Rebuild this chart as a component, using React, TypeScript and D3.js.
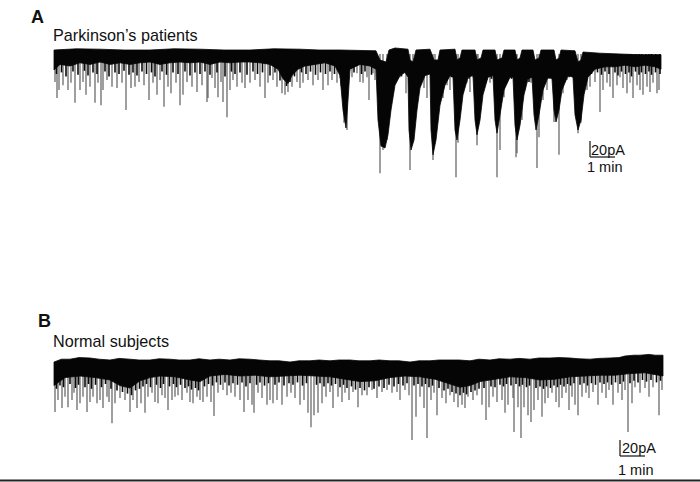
import React from "react";
import * as d3 from "d3";

// ---- Panel A : Parkinson's patients (time in min, current in pA) ----
const topA: [number, number][] = [
  [0, 0], [0.9, 1.5], [1.84, 1], [2.8, 0], [3.84, 0], [4.8, 1.5], [5.84, 1], [6.8, 0], [7.84, 0], [8.8, 1.5],
  [9.84, 1], [10.6, 0], [11.44, 0], [12.88, -1],
  [13.04, -12.5], [13.28, -15], [13.4, 0], [13.64, 2.5], [14.16, 1],
  [14.24, -12.5], [14.36, -15], [14.48, 0], [15.04, 1],
  [15.2, -12.5], [15.36, -12.5], [15.44, 0], [16.04, 1],
  [16.12, -12.5], [16.24, -10], [16.32, 0], [16.84, 0],
  [16.92, -12.5], [17.08, -10], [17.16, 0], [17.64, 0],
  [17.72, -12.5], [17.92, -10], [18.0, 0], [18.44, 0],
  [18.52, -12.5], [18.64, -10], [18.72, 0], [19.16, 0],
  [19.24, -12.5], [19.4, -10], [19.48, 0], [20.0, 0],
  [20.08, -12.5], [20.2, -10], [20.28, 0], [20.84, -1],
  [20.96, -15], [21.08, -12.5], [21.16, -2.5], [21.84, -4], [22.64, -5], [23.44, -6], [24.28, -6],
];

const bottomA: [number, number][] = [
  [0, -25], [0.24, -18], [0.64, -20], [1.04, -16], [1.44, -18], [1.84, -15], [2.24, -18],
  [2.64, -16], [3.04, -18], [3.44, -16], [3.84, -15], [4.24, -18], [4.64, -16], [5.04, -15],
  [5.44, -16], [5.84, -15], [6.24, -18], [6.64, -15], [7.04, -16], [7.44, -15], [7.84, -15],
  [8.24, -16], [8.64, -18], [8.96, -24], [9.16, -36], [9.36, -42], [9.52, -32], [9.76, -24],
  [10.04, -20], [10.44, -18], [10.84, -16], [11.24, -20], [11.44, -32], [11.56, -75], [11.68, -97.5],
  [11.76, -62.5], [11.84, -24], [12.24, -18], [12.64, -20], [12.88, -24],
  [12.96, -87.5], [13.08, -120], [13.24, -122.5], [13.36, -106], [13.48, -75], [13.64, -44], [13.84, -32], [14.04, -28], [14.16, -34],
  [14.2, -100], [14.28, -125], [14.4, -112.5], [14.52, -75], [14.64, -47.5], [14.84, -32], [15.04, -30],
  [15.08, -100], [15.16, -131], [15.28, -112.5], [15.44, -69], [15.64, -44], [15.84, -32], [15.96, -34],
  [16.04, -100], [16.12, -112.5], [16.24, -87.5], [16.36, -56], [16.56, -34], [16.76, -32],
  [16.84, -87.5], [16.92, -106], [17.04, -87.5], [17.16, -56], [17.36, -34], [17.56, -32],
  [17.64, -87.5], [17.72, -104], [17.84, -81], [18.0, -50], [18.24, -34], [18.36, -34],
  [18.44, -94], [18.52, -112.5], [18.64, -94], [18.8, -56], [18.96, -36], [19.12, -34],
  [19.2, -81], [19.28, -100], [19.4, -81], [19.56, -50], [19.76, -34], [19.92, -36],
  [20.0, -75], [20.08, -90], [20.2, -75], [20.32, -50], [20.56, -32], [20.76, -34],
  [20.84, -81], [20.96, -100], [21.08, -87.5], [21.2, -56], [21.36, -34], [21.64, -24],
  [22.04, -21], [22.44, -21], [22.84, -19], [23.24, -21], [23.64, -19], [24.04, -21], [24.28, -24],
];

const spikesA: [number, number][] = [
  [0.04, -40], [0.12, -60], [0.2, -50], [0.36, -44], [0.56, -50], [0.68, -41], [0.84, -66], [1.04, -50],
  [1.16, -40], [1.28, -56], [1.44, -46], [1.64, -66], [1.76, -41], [1.88, -69], [1.96, -50], [2.12, -37.5],
  [2.32, -46], [2.52, -47.5], [2.72, -41], [2.88, -75], [3.08, -47.5], [3.24, -46], [3.4, -40], [3.6, -44],
  [3.8, -62.5], [3.96, -41], [4.12, -56], [4.24, -37.5], [4.4, -71], [4.56, -46], [4.68, -54], [4.88, -41],
  [5.04, -69], [5.16, -56], [5.32, -40], [5.52, -46], [5.72, -52.5], [5.92, -44], [6.12, -65], [6.16, -60],
  [6.32, -35], [6.44, -47.5], [6.56, -59], [6.68, -40], [6.76, -65], [6.92, -84], [7.04, -50], [7.16, -37.5],
  [7.32, -46], [7.52, -41], [7.64, -47.5], [7.84, -41], [8.04, -37.5], [8.24, -46], [8.44, -60], [8.56, -41],
  [8.76, -37.5], [8.92, -46], [9.12, -54], [9.24, -56], [9.36, -52.5], [9.52, -46], [9.72, -40], [9.84, -47.5],
  [9.96, -41], [10.16, -37.5], [10.36, -44], [10.56, -37.5], [10.76, -50], [10.96, -44], [11.12, -37.5],
  [11.32, -41], [11.44, -35], [11.6, -91], [11.72, -100], [11.92, -34], [12.12, -29], [12.24, -40],
  [12.36, -41], [12.52, -34], [12.6, -62.5], [12.76, -29], [12.84, -37.5],
  [13.04, -154], [13.16, -125], [13.32, -112.5], [13.52, -62.5], [13.64, -35], [13.84, -34], [13.96, -25],
  [14.08, -54], [14.24, -150], [14.36, -104], [14.52, -50], [14.72, -25], [14.8, -47.5], [14.92, -60],
  [15.0, -29], [15.16, -137.5], [15.24, -96], [15.44, -54], [15.56, -60], [15.72, -44], [15.84, -50],
  [15.96, -34], [16.08, -159], [16.16, -116], [16.36, -54], [16.52, -41], [16.64, -52.5], [16.76, -34],
  [16.92, -119], [16.96, -96], [17.16, -50], [17.32, -37.5], [17.44, -41], [17.56, -29], [17.72, -159],
  [17.84, -125], [18.0, -59], [18.12, -41], [18.24, -34], [18.48, -134], [18.52, -129], [18.72, -87.5],
  [18.84, -50], [18.96, -34], [19.08, -41], [19.32, -147.5], [19.4, -109], [19.56, -62.5], [19.72, -50],
  [19.84, -34], [20.0, -90], [20.2, -131], [20.36, -54], [20.52, -37.5], [20.64, -31], [20.96, -104],
  [21.08, -91], [21.32, -50], [21.44, -46], [21.64, -40], [21.84, -77.5], [21.96, -50], [22.12, -41],
  [22.24, -46], [22.36, -60], [22.52, -44], [22.64, -34], [22.76, -47.5], [22.92, -54], [23.04, -41],
  [23.16, -60], [23.32, -44], [23.44, -50], [23.56, -56], [23.72, -46], [23.84, -52.5], [23.96, -41],
  [24.12, -54], [24.2, -50],
];

// short dense events just below the band (black texture), Panel A
const minisA: [number, number][] = [
  [0.1, -30], [0.3, -28], [0.48, -33], [0.76, -27], [0.96, -31], [1.22, -26], [1.36, -32], [1.56, -28],
  [1.72, -30], [2.04, -27], [2.2, -33], [2.44, -28], [2.6, -30], [2.8, -26], [3.0, -31], [3.16, -28],
  [3.32, -32], [3.52, -27], [3.7, -30], [3.9, -28], [4.04, -33], [4.32, -27], [4.5, -31], [4.76, -28],
  [4.96, -30], [5.24, -27], [5.44, -32], [5.64, -28], [5.84, -30], [6.04, -27], [6.24, -31], [6.52, -28],
  [6.84, -33], [7.1, -27], [7.24, -30], [7.44, -28], [7.72, -31], [7.96, -27], [8.14, -30], [8.34, -28],
  [8.64, -32], [8.84, -28], [9.04, -38], [9.3, -45], [9.44, -40], [9.62, -33], [9.9, -28], [10.08, -30],
  [10.26, -27], [10.46, -31], [10.66, -28], [10.86, -30], [11.04, -27], [11.22, -30], [11.5, -45],
  [12.0, -28], [12.3, -30], [12.44, -27], [12.7, -31], [13.76, -36], [13.9, -33], [14.6, -40], [14.68, -36],
  [15.68, -38], [15.9, -34], [16.44, -40], [16.6, -36], [17.28, -40], [17.5, -36], [18.08, -42], [18.3, -36],
  [19.0, -40], [19.16, -36], [19.64, -42], [19.8, -36], [20.44, -38], [20.6, -34], [21.24, -42], [21.5, -30],
  [21.74, -28], [21.9, -31], [22.04, -27], [22.2, -30], [22.44, -28], [22.56, -32], [22.7, -27], [22.86, -30],
  [23.0, -28], [23.1, -33], [23.26, -27], [23.4, -31], [23.5, -28], [23.66, -30], [23.8, -27], [23.9, -31],
  [24.06, -28], [24.24, -30],
];

// ---- Panel B : Normal subjects ----
const topB: [number, number][] = [
  [0, -2.5], [0.3, 1], [0.64, 1], [1.0, 3], [1.44, 2.5], [1.8, 1], [2.24, 0], [2.6, 2], [3.04, 1], [3.4, 0],
  [3.84, 0], [4.2, 1.5], [4.64, 1], [5.0, 0], [5.44, 0], [5.8, 1.5], [6.24, 0], [6.6, 1], [7.04, 0], [7.4, 1.5],
  [7.84, 1], [8.2, 0], [8.64, -1], [9.0, -1], [9.44, -2.5], [9.8, -1], [10.24, -1], [10.6, 0], [11.04, -1],
  [11.4, 0], [11.84, 0], [12.2, -1], [12.64, -1], [13.0, 0], [13.44, -1], [13.8, -1], [14.24, -2.5], [14.6, -1],
  [15.04, -1], [15.4, 0], [15.84, 0], [16.2, 0], [16.64, -1], [17.0, 1], [17.44, 0], [17.8, 1.5], [18.24, 1],
  [18.6, 2], [19.04, 1], [19.4, 2.5], [19.84, 2.5], [20.2, 3], [20.64, 2.5], [21.0, 1.5], [21.44, 1],
  [21.8, 2], [22.24, 2.5], [22.6, 3], [22.84, 5], [23.2, 6], [23.44, 6], [23.8, 7], [24.04, 6], [24.36, 6],
];

const bottomB: [number, number][] = [
  [0, -32], [0.44, -22], [1.04, -20], [1.64, -22], [2.24, -25], [2.64, -32], [3.04, -35], [3.44, -26],
  [3.84, -22], [4.24, -20], [4.84, -21], [5.44, -25], [5.84, -27], [6.24, -20], [6.84, -18], [7.44, -20],
  [8.04, -19], [8.64, -21], [9.24, -20], [9.84, -19], [10.44, -20], [11.04, -21], [11.64, -24], [12.24, -27],
  [12.84, -26], [13.44, -22], [14.04, -20], [14.64, -21], [15.24, -24], [15.84, -30], [16.24, -34],
  [16.64, -32], [17.04, -27], [17.64, -24], [18.24, -21], [18.84, -22], [19.44, -25], [20.04, -24],
  [20.64, -21], [21.24, -20], [21.84, -19], [22.44, -19], [23.04, -17], [23.64, -16], [24.36, -20],
];

const spikesB: [number, number][] = [
  [0.04, -65], [0.16, -50], [0.32, -60], [0.44, -46], [0.56, -59], [0.72, -50], [0.8, -41], [0.92, -62.5],
  [1.04, -54], [1.16, -46], [1.32, -65], [1.44, -52.5], [1.56, -46], [1.72, -54], [1.84, -50], [1.96, -60],
  [2.12, -46], [2.2, -52.5], [2.32, -79], [2.44, -54], [2.64, -47.5], [2.84, -50], [3.04, -65], [3.16, -50],
  [3.32, -60], [3.48, -54], [3.64, -66], [3.76, -46], [3.92, -41], [4.04, -52.5], [4.16, -54], [4.32, -44],
  [4.44, -47.5], [4.56, -62.5], [4.72, -50], [4.84, -46], [4.96, -44], [5.12, -50], [5.32, -41], [5.44, -52.5],
  [5.56, -54], [5.72, -46], [5.84, -50], [5.96, -52.5], [6.12, -46], [6.28, -52.5], [6.4, -70], [6.56, -41],
  [6.76, -37.5], [6.92, -44], [7.08, -41], [7.24, -46], [7.44, -50], [7.6, -65], [7.76, -50], [7.92, -56],
  [8.0, -66], [8.16, -41], [8.32, -47.5], [8.52, -56], [8.64, -50], [8.76, -54], [8.92, -50], [9.12, -56],
  [9.32, -46], [9.48, -41], [9.64, -47.5], [9.84, -56], [10.0, -50], [10.16, -66], [10.28, -84], [10.4, -69],
  [10.56, -66], [10.72, -54], [10.88, -46], [11.04, -40], [11.16, -60], [11.36, -46], [11.52, -52.5],
  [11.64, -41], [11.8, -50], [11.96, -40], [12.16, -59], [12.32, -44], [12.52, -44], [12.72, -37.5],
  [12.92, -47.5], [13.12, -40], [13.32, -37.5], [13.52, -41], [13.72, -40], [13.84, -50], [14.04, -37.5],
  [14.2, -44], [14.32, -100], [14.48, -71], [14.64, -46], [14.8, -60], [14.92, -97.5], [15.08, -50],
  [15.2, -41], [15.32, -69], [15.52, -47.5], [15.68, -54], [15.84, -44], [16.0, -52.5], [16.16, -59],
  [16.32, -56], [16.44, -60], [16.56, -46], [16.76, -50], [16.92, -44], [17.12, -56], [17.28, -75],
  [17.4, -59], [17.56, -46], [17.72, -52.5], [17.92, -50], [18.04, -66], [18.16, -56], [18.36, -47.5],
  [18.4, -90], [18.56, -59], [18.68, -97.5], [18.8, -59], [18.96, -69], [19.08, -77.5], [19.2, -62.5],
  [19.36, -50], [19.52, -71], [19.64, -54], [19.76, -47.5], [19.92, -41], [20.08, -52.5], [20.2, -59],
  [20.32, -47.5], [20.48, -41], [20.6, -62.5], [20.72, -46], [20.84, -56], [20.96, -69], [21.12, -46],
  [21.28, -41], [21.4, -47.5], [21.56, -40], [21.76, -56], [21.92, -41], [22.08, -47.5], [22.2, -37.5],
  [22.36, -56], [22.56, -41], [22.72, -50], [22.84, -37.5], [22.96, -90], [23.12, -54], [23.24, -34],
  [23.44, -41], [23.64, -35], [23.8, -46], [23.96, -34], [24.2, -69], [24.32, -37.5],
];

const minisB: [number, number][] = [
  [0.1, -36], [0.24, -32], [0.38, -34], [0.64, -30], [0.86, -35], [0.98, -31], [1.24, -34], [1.38, -30],
  [1.5, -36], [1.66, -31], [1.9, -34], [2.06, -30], [2.28, -36], [2.52, -38], [2.74, -40], [2.94, -42],
  [3.1, -44], [3.26, -38], [3.42, -36], [3.56, -33], [3.7, -30], [3.86, -34], [4.1, -31], [4.26, -35],
  [4.38, -30], [4.62, -33], [4.78, -30], [4.9, -34], [5.06, -31], [5.24, -35], [5.38, -33], [5.5, -37],
  [5.66, -35], [5.78, -38], [6.02, -33], [6.18, -30], [6.34, -32], [6.5, -28], [6.66, -31], [6.84, -28],
  [7.0, -32], [7.16, -29], [7.34, -31], [7.52, -28], [7.68, -33], [7.84, -29], [8.1, -31], [8.24, -28],
  [8.42, -32], [8.58, -29], [8.84, -31], [9.0, -28], [9.2, -32], [9.4, -29], [9.56, -31], [9.74, -28],
  [9.94, -32], [10.1, -29], [10.5, -31], [10.64, -29], [10.8, -33], [10.96, -29], [11.1, -32], [11.26, -30],
  [11.44, -34], [11.58, -31], [11.72, -35], [11.9, -33], [12.06, -37], [12.24, -35], [12.42, -38],
  [12.6, -34], [12.8, -36], [13.0, -33], [13.2, -35], [13.4, -31], [13.6, -33], [13.78, -30], [13.96, -32],
  [14.12, -29], [14.4, -32], [14.56, -30], [14.72, -33], [14.86, -30], [15.0, -34], [15.14, -32],
  [15.4, -35], [15.6, -38], [15.76, -36], [15.92, -40], [16.08, -42], [16.24, -44], [16.38, -41],
  [16.5, -43], [16.68, -40], [16.84, -38], [17.0, -36], [17.2, -35], [17.48, -33], [17.64, -34],
  [17.84, -31], [17.98, -33], [18.1, -30], [18.28, -32], [18.48, -30], [18.62, -33], [18.74, -31],
  [18.9, -34], [19.02, -32], [19.28, -35], [19.44, -33], [19.58, -36], [19.7, -33], [19.86, -35],
  [20.0, -32], [20.14, -34], [20.26, -31], [20.4, -33], [20.54, -30], [20.66, -32], [20.8, -29],
  [21.04, -31], [21.2, -29], [21.34, -32], [21.5, -29], [21.66, -31], [21.84, -28], [22.0, -30],
  [22.14, -28], [22.3, -31], [22.46, -28], [22.64, -30], [22.78, -27], [23.04, -29], [23.2, -26],
  [23.36, -28], [23.54, -25], [23.7, -27], [23.88, -25], [24.1, -28], [24.26, -26],
];

const panelLetters = ["A", "B"];
const panelTitles = ["Parkinson\u2019s patients", "Normal subjects"];
const scaleBarCurrent = 20; // pA
const scaleBarTime = 1; // min
const scaleLabels = ["20pA", "1 min"];

const FONT = "'Liberation Sans', Arial, Helvetica, sans-serif";

type Pt = [number, number];

function Trace({
  top, bottom, spikes, minis, xDomain, xRange, yTop, barX, barY,
}: {
  top: Pt[]; bottom: Pt[]; spikes: Pt[]; minis: Pt[]; xDomain: [number, number]; xRange: [number, number];
  yTop: number; barX: number; barY: number;
}) {
  const x = d3.scaleLinear().domain(xDomain).range(xRange);
  const y = d3.scaleLinear().domain([0, -150]).range([yTop, yTop + 120]);
  const line = d3.line<Pt>().x((d) => x(d[0])).y((d) => y(d[1]));
  const poly = [...top, ...bottom.slice().reverse()];
  const band = line(poly) + "Z";
  const barW = x(scaleBarTime) - x(0);
  const barH = y(-scaleBarCurrent) - y(0);
  return (
    <g>
      {spikes.map((s, i) => (
        <line key={"s" + i} x1={x(s[0])} x2={x(s[0])} y1={y(-5)} y2={y(s[1])} stroke="#5e5e5e" strokeWidth={1.2} />
      ))}
      {minis.map((s, i) => (
        <line key={"m" + i} x1={x(s[0])} x2={x(s[0])} y1={y(-5)} y2={y(s[1])} stroke="#0a0a0a" strokeWidth={1.6} />
      ))}
      <path d={band} fill="#050505" stroke="#050505" strokeWidth={0.8} strokeLinejoin="round" />
      <g>
        <line x1={barX} x2={barX} y1={barY - barH} y2={barY} stroke="#111" strokeWidth={1.2} />
        <line x1={barX} x2={barX + barW} y1={barY} y2={barY} stroke="#111" strokeWidth={1.2} />
      </g>
    </g>
  );
}

export default function App() {
  return (
    <svg width={700} height={482} style={{ position: "absolute", left: 0, top: 0, background: "#fff" }}>
      <rect x={0} y={0} width={700} height={482} fill="#fff" />
      {/* Panel A */}
      <text x={31} y={23} fontFamily={FONT} fontWeight="bold" fontSize={18} fill="#111">{panelLetters[0]}</text>
      <text x={53} y={41} fontFamily={FONT} fontSize={16.2} fill="#111">{panelTitles[0]}</text>
      <Trace top={topA} bottom={bottomA} spikes={spikesA} minis={minisA} xDomain={[0, 24.28]} xRange={[54, 661]} yTop={50} barX={590} barY={157} />
      <text x={591} y={155} fontFamily={FONT} fontSize={14.5} fill="#111">{scaleLabels[0]}</text>
      <text x={587} y={172} fontFamily={FONT} fontSize={14.5} fill="#111">{scaleLabels[1]}</text>

      {/* Panel B */}
      <text x={38} y={327} fontFamily={FONT} fontWeight="bold" fontSize={18} fill="#111">{panelLetters[1]}</text>
      <text x={53} y={347} fontFamily={FONT} fontSize={16.2} fill="#111">{panelTitles[1]}</text>
      <Trace top={topB} bottom={bottomB} spikes={spikesB} minis={minisB} xDomain={[0, 24.36]} xRange={[54, 663]} yTop={360} barX={620} barY={456} />
      <text x={622} y={453} fontFamily={FONT} fontSize={14.5} fill="#111">{scaleLabels[0]}</text>
      <text x={618} y={475} fontFamily={FONT} fontSize={14.5} fill="#111">{scaleLabels[1]}</text>

      <line x1={0} x2={700} y1={480.5} y2={480.5} stroke="#222" strokeWidth={2} />
    </svg>
  );
}
